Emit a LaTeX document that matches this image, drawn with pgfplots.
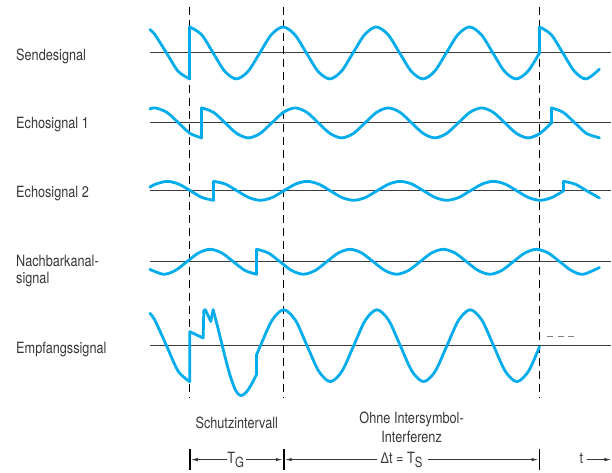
\documentclass[border=0pt]{standalone}
\usepackage{pgfplots}
\pgfplotsset{compat=1.18}
\usetikzlibrary{arrows.meta}
\usepackage{fontspec}
\setmainfont{TeX Gyre Heros}[FakeStretch=0.82]
\newfontfamily\greekfont{Liberation Sans}[FakeStretch=0.82]

\definecolor{sig}{RGB}{0,172,236}
\definecolor{txt}{RGB}{55,55,55}
\definecolor{base}{RGB}{60,60,60}

\begin{document}
\fontsize{15.5}{18}\selectfont
\begin{tikzpicture}
  \begin{axis}[
    scale only axis,
    width=612pt, height=473pt,
    xmin=0, xmax=612, ymin=0, ymax=473,
    y dir=reverse,
    hide axis,
    clip=false,
    every axis plot/.append style={sig, line width=2.8pt, line join=round, line cap=round, no markers},
    ]
    \path (axis cs:0,0) rectangle (axis cs:612,473);

    % baselines
    \foreach \yy in {53,123,191,262,346}{
      \edef\tmp{\noexpand\draw[base, line width=1.1pt] (axis cs:150,\yy) -- (axis cs:612,\yy);}
      \tmp
    }
    % symbol boundaries
    \foreach \xx in {190,284,540}{
      \edef\tmp{\noexpand\draw[black, line width=1.3pt, dash pattern=on 8pt off 5pt] (axis cs:\xx,7) -- (axis cs:\xx,398);}
      \tmp
    }
    \draw[gray, line width=1pt, dash pattern=on 6pt off 5pt] (axis cs:547,337) -- (axis cs:577,337);

    % Sendesignal
    \addplot[smooth] coordinates {(150,29.6)(155,34.6)(166.67,53)(178.33,71.4)(190,79)};
    \addplot[sharp plot] coordinates {(190,79)(190,27)};
    \addplot[smooth] table {
      x y
      190 27
      201.67 34.6
      213.33 53
      225 71.4
      236.67 79
      248.33 71.4
      260 53
      271.67 34.6
      283.33 27
      295 34.6
      306.67 53
      318.33 71.4
      330 79
      341.67 71.4
      353.33 53
      365 34.6
      376.67 27
      388.33 34.6
      400 53
      411.67 71.4
      423.33 79
      435 71.4
      446.67 53
      458.33 34.6
      470 27
      481.67 34.6
      493.33 53
      505 71.4
      516.67 79
      528.33 71.4
      540 53
    };
    \addplot[sharp plot] coordinates {(540,53)(540,27)};
    \addplot[smooth] coordinates {(540,27)(551.67,34.6)(563.33,53)(575,71.4)(586.67,79)(600,69.2)};

    % Echosignal 1
    \addplot[smooth] coordinates {(150,109)(155.33,108)(167,112.4)(178.67,123)(190.33,133.6)(202,138)};
    \addplot[sharp plot] coordinates {(202,138)(202,108)};
    \addplot[smooth] table {
      x y
      202 108
      213.67 112.4
      225.33 123
      237 133.6
      248.67 138
      260.33 133.6
      272 123
      283.67 112.4
      295.33 108
      307 112.4
      318.67 123
      330.33 133.6
      342 138
      353.67 133.6
      365.33 123
      377 112.4
      388.67 108
      400.33 112.4
      412 123
      423.67 133.6
      435.33 138
      447 133.6
      458.67 123
      470.33 112.4
      482 108
      493.67 112.4
      505.33 123
      517 133.6
      528.67 138
      540.33 133.6
      552 123
    };
    \addplot[sharp plot] coordinates {(552,123)(552,108)};
    \addplot[smooth] coordinates {(552,108)(563.67,112.4)(575.33,123)(587,133.6)(600,137.9)};

    % Echosignal 2
    \addplot[smooth] coordinates {(150,187.3)(155.67,184.3)(167.33,181.5)(179,184.3)(190.67,191)(202.33,197.7)(214,200.5)};
    \addplot[sharp plot] coordinates {(214,200.5)(214,181.5)};
    \addplot[smooth] table {
      x y
      214 181.5
      225.67 184.3
      237.33 191
      249 197.7
      260.67 200.5
      272.33 197.7
      284 191
      295.67 184.3
      307.33 181.5
      319 184.3
      330.67 191
      342.33 197.7
      354 200.5
      365.67 197.7
      377.33 191
      389 184.3
      400.67 181.5
      412.33 184.3
      424 191
      435.67 197.7
      447.33 200.5
      459 197.7
      470.67 191
      482.33 184.3
      494 181.5
      505.67 184.3
      517.33 191
      529 197.7
      540.67 200.5
      552.33 197.7
      564 191
    };
    \addplot[sharp plot] coordinates {(564,191)(564,181.5)};
    \addplot[smooth] coordinates {(564,181.5)(575.67,184.3)(587.33,191)(600,198.2)};

    % Nachbarkanalsignal
    \addplot[smooth] coordinates {(150,269.6)(163.67,274.5)(175.33,270.8)(187,262)(198.67,253.2)(210.33,249.5)(222,253.2)(233.67,262)(245.33,270.8)(257,274.5)};
    \addplot[sharp plot] coordinates {(257,274.5)(257,249.5)};
    \addplot[smooth] table {
      x y
      257 249.5
      268.67 253.2
      280.33 262
      292 270.8
      303.67 274.5
      315.33 270.8
      327 262
      338.67 253.2
      350.33 249.5
      362 253.2
      373.67 262
      385.33 270.8
      397 274.5
      408.67 270.8
      420.33 262
      432 253.2
      443.67 249.5
      455.33 253.2
      467 262
      478.67 270.8
      490.33 274.5
      502 270.8
      513.67 262
      525.33 253.2
      537 249.5
      548.67 253.2
      560.33 262
      572 270.8
      583.67 274.5
      600 267.7
    };

    % Empfangssignal
    \addplot[smooth] coordinates {(150,313.6)(155,320.5)(166.67,346)(178.33,371.5)(190,382)};
    \addplot[sharp plot] coordinates {(190,382)(190,332)(203.3,338.3)(204,311)(205.5,310)(211,321.7)(213.3,310)};
    \addplot[smooth] coordinates {(213.3,310)(217,324)(222,344)(227,364)(231,378)(236,391)(241,396)(246,393)(251,386)(256.7,375)};
    \addplot[sharp plot] coordinates {(256.7,375)(256.7,355.5)};
    \addplot[smooth] table {
      x y
      256.7 355.5
      260.67 346
      272.33 320.5
      284 310
      295.67 320.5
      307.33 346
      319 371.5
      330.67 382
      342.33 371.5
      354 346
      365.67 320.5
      377.33 310
      389 320.5
      400.67 346
      412.33 371.5
      424 382
      435.67 371.5
      447.33 346
      459 320.5
      470.67 310
      482.33 320.5
      494 346
      505.67 371.5
      517.33 382
      529 371.5
      540 347
    };

    % labels
    \begin{scope}[every node/.style={txt, inner sep=0pt}]
      \node[anchor=base west] at (axis cs:16,61) {Sendesignal};
      \node[anchor=base west] at (axis cs:16,129) {Echosignal 1};
      \node[anchor=base west] at (axis cs:16,198) {Echosignal 2};
      \node[anchor=base west] at (axis cs:16,267) {Nachbarkanal-};
      \node[anchor=base west] at (axis cs:16,284) {signal};
      \node[anchor=base west] at (axis cs:16,354) {Empfangssignal};
      \node[anchor=base] at (axis cs:237,429) {Schutzintervall};
      \node[anchor=base] at (axis cs:412,424) {Ohne Intersymbol-};
      \node[anchor=base] at (axis cs:412,443) {Interferenz};
      \node at (axis cs:236,460) {T{\fontsize{14}{14}\selectfont\raisebox{-4pt}{G}}};
      \node at (axis cs:402,460) {{\greekfont Δ}t = T{\fontsize{14}{14}\selectfont\raisebox{-4pt}{S}}};
      \node at (axis cs:582,459) {t};
    \end{scope}

    % time dimension line
    \foreach \xx in {190,284,540}{
      \edef\tmp{\noexpand\draw[black, line width=1.8pt] (axis cs:\xx,449) -- (axis cs:\xx,470);}
      \tmp
    }
    \begin{scope}[line width=1pt, txt]
      \draw[{Latex[length=7pt,width=3.5pt]}-] (axis cs:191,460) -- (axis cs:227,460);
      \draw[-{Latex[length=7pt,width=3.5pt]}] (axis cs:246,460) -- (axis cs:283,460);
      \draw[{Latex[length=7pt,width=3.5pt]}-] (axis cs:285,460) -- (axis cs:377,460);
      \draw[-{Latex[length=7pt,width=3.5pt]}] (axis cs:428,460) -- (axis cs:539,460);
      \draw[-{Latex[length=7pt,width=3.5pt]}] (axis cs:588,460) -- (axis cs:612,460);
    \end{scope}
  \end{axis}
\end{tikzpicture}
\end{document}
